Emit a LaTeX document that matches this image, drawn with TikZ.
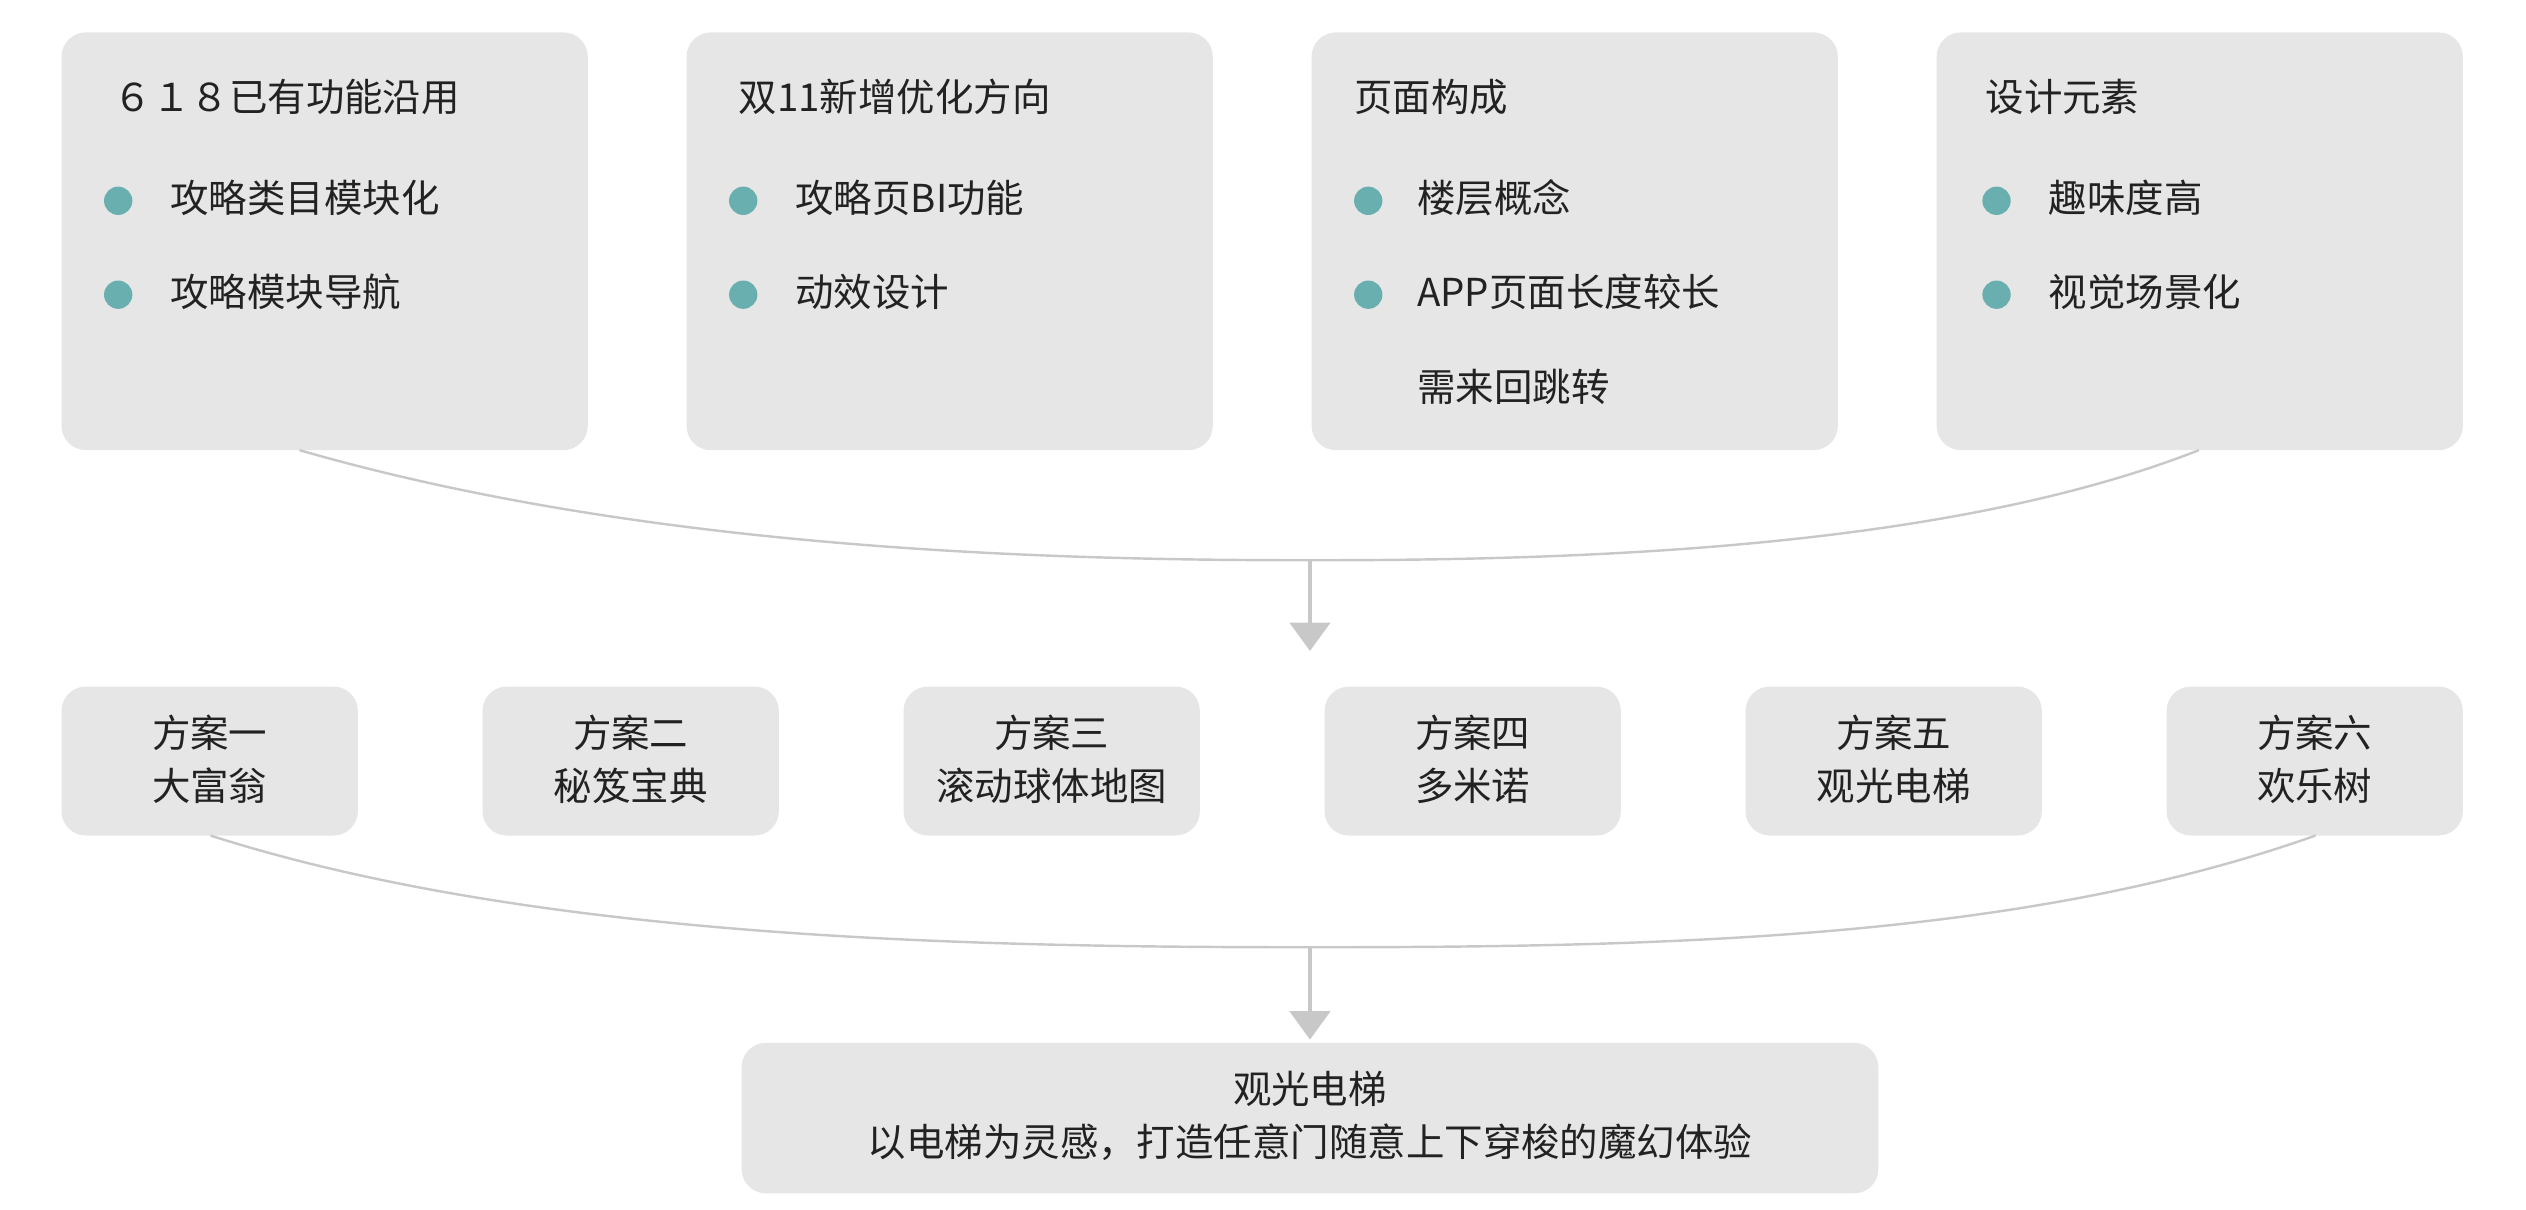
\documentclass[tikz,border=0pt]{standalone}
\usepackage{fontspec}
\setmainfont{Noto Sans CJK SC}
\usetikzlibrary{arrows.meta}
\definecolor{boxg}{HTML}{E6E6E6}
\definecolor{lineg}{HTML}{C8C8C8}
\definecolor{teal}{HTML}{6AAFB0}
\definecolor{txt}{HTML}{222222}
\begin{document}
\begin{tikzpicture}[x=0.8pt,y=-0.8pt,
  box/.style={fill=boxg,rounded corners=12pt,draw=none},
  t/.style={anchor=west,inner sep=0,text=txt,font=\fontsize{19}{22}\selectfont},
  c/.style={align=center,inner sep=0,text=txt,font=\fontsize{19}{26}\selectfont},
  dot/.style={circle,fill=teal,minimum size=14pt,inner sep=0},
  con/.style={draw=lineg,line width=1.2pt},
  arr/.style={draw=lineg,line width=1.6pt,-{Triangle[length=14pt,width=20pt]}}]
\useasboundingbox (0,0) rectangle (1560,746.7);
% top boxes
\foreach \x/\n in {38/a,424/b,810/c,1196/d}{
  \path[box] (\x,20) rectangle ++(325,258);
  \coordinate (\n) at (\x,0);
}
\node[t] (a0) at (70,60) {６１８已有功能沿用};
\node[dot] (a1d) at (73,124) {}; \node[t] (a1) at (105,122) {攻略类目模块化};
\node[dot] (a2d) at (73,182) {}; \node[t] (a2) at (105,180) {攻略模块导航};
\node[t] (b0) at (456,60) {双11新增优化方向};
\node[dot] (b1d) at (459,124) {}; \node[t] (b1) at (491,122) {攻略页BI功能};
\node[dot] (b2d) at (459,182) {}; \node[t] (b2) at (491,180) {动效设计};
\node[t] (c0) at (836,60) {页面构成};
\node[dot] (c1d) at (845,124) {}; \node[t] (c1) at (875,122) {楼层概念};
\node[dot] (c2d) at (845,182) {}; \node[t] (c2) at (875,180) {APP页面长度较长};
\node[t] (c3) at (875,239) {需来回跳转};
\node[t] (d0) at (1226,60) {设计元素};
\node[dot] (d1d) at (1233,124) {}; \node[t] (d1) at (1265,122) {趣味度高};
\node[dot] (d2d) at (1233,182) {}; \node[t] (d2) at (1265,180) {视觉场景化};
\coordinate (l1) at (185,278); \coordinate (r1) at (1358,278);
\coordinate (m1) at (809,346); \coordinate (e1) at (809,402);
\draw[con] (l1) .. controls (400,340) and (650,346) .. (m1) .. controls (970,346) and (1200,340) .. (r1);
\draw[arr] (m1) -- (e1);
% row 2
\foreach \x/\n/\a/\b in {38/s1/方案一/大富翁,298/s2/方案二/秘笈宝典,558/s3/方案三/滚动球体地图,818/s4/方案四/多米诺,1078/s5/方案五/观光电梯,1338/s6/方案六/欢乐树}{
  \path[box] (\x,424) rectangle ++(183,92);
  \node[c] (\n) at (\x+91.5,469) {\a\\\b};
}
\coordinate (l2) at (130,516); \coordinate (r2) at (1430,516);
\coordinate (m2) at (809,585); \coordinate (e2) at (809,642);
\draw[con] (l2) .. controls (330,580) and (600,585) .. (m2) .. controls (1030,585) and (1250,580) .. (r2);
\draw[arr] (m2) -- (e2);
\path[box] (458,644) rectangle (1160,737);
\node[c] (f) at (809,689) {观光电梯\\以电梯为灵感，打造任意门随意上下穿梭的魔幻体验};
\end{tikzpicture}
\end{document}
